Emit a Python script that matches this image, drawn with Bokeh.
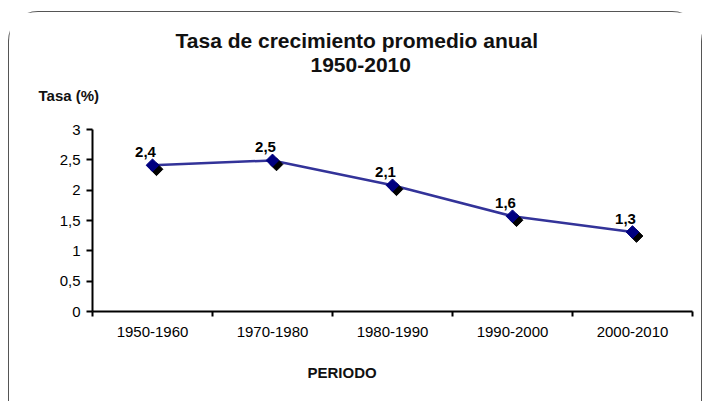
import math
from bokeh.plotting import figure
from bokeh.models import Range1d, FixedTicker, Title, ColumnDataSource
from bokeh.core.properties import value
from bokeh.embed import file_html
from bokeh.resources import INLINE

# ---- data ----
periods = ["1950-1960", "1970-1980", "1980-1990", "1990-2000", "2000-2010"]
rates = [2.41, 2.49, 2.08, 1.57, 1.31]
y_ticks = [0, 0.5, 1, 1.5, 2, 2.5, 3]
title_line1 = "Tasa de crecimiento promedio anual"
title_line2 = "1950-2010"
y_title = "Tasa (%)"
x_title = "PERIODO"

FONT = "Liberation Sans"
W, H = 694, 390
ML, MR, MT, MB = 83, 11, 117, 90
FW, FH = W - ML - MR, H - MT - MB

xs = [i + 0.5 for i in range(len(periods))]
labels = [f"{v:.1f}".replace(".", ",") for v in rates]
src = ColumnDataSource(dict(x=xs, y=rates, lab=labels))

p = figure(width=W, height=H, x_range=Range1d(0, len(periods)), y_range=Range1d(0, 3),
           output_backend="svg", toolbar_location=None,
           min_border_left=ML, min_border_right=MR, min_border_top=MT, min_border_bottom=MB)
p.styles = {"margin-left": "8px", "margin-top": "11px",
            "border-top": "1px solid #555555", "border-left": "1px solid #555555",
            "border-right": "1px solid #555555",
            "border-top-left-radius": "30px", "border-top-right-radius": "30px"}
p.title.visible = False
p.background_fill_color = "white"
p.border_fill_color = "white"
p.outline_line_color = None
p.xgrid.visible = False
p.ygrid.visible = False

# shadow ranges (offset by a few screen pixels)
sdx = 4 * len(periods) / FW
sdy = 4 * 3 / FH
p.extra_x_ranges = {"sx": Range1d(-sdx, len(periods) - sdx)}
p.extra_y_ranges = {"sy": Range1d(sdy, 3 + sdy)}

# axes
xa = p.xaxis[0]
xa.ticker = FixedTicker(ticks=xs, minor_ticks=list(range(len(periods) + 1)))
xa.major_label_overrides = {x: lab for x, lab in zip(xs, periods)}
xa.major_tick_line_color = None
xa.major_tick_out = 5
xa.minor_tick_in = 0
xa.minor_tick_out = 5
xa.minor_tick_line_width = 2
xa.minor_tick_line_color = "black"
xa.axis_line_width = 2
xa.axis_line_color = "black"
xa.major_label_standoff = 10
xa.major_label_text_font = FONT
xa.major_label_text_font_size = "15px"
xa.major_label_text_color = "black"

ya = p.yaxis[0]
ya.ticker = FixedTicker(ticks=y_ticks, minor_ticks=[])
ya.major_label_overrides = {t: (f"{t:g}".replace(".", ",")) for t in y_ticks}
ya.major_tick_in = 0
ya.major_tick_out = 6
ya.major_tick_line_width = 2
ya.major_tick_line_color = "black"
ya.axis_line_width = 2
ya.axis_line_color = "black"
ya.major_label_standoff = 6
ya.major_label_text_font = FONT
ya.major_label_text_font_size = "15px"
ya.major_label_text_color = "black"

# series
p.line("x", "y", source=src, line_color="#333399", line_width=2.5)
p.scatter("x", "y", source=src, marker="square", size=9, angle=math.pi / 4,
          fill_color="black", line_color="black",
          x_range_name="sx", y_range_name="sy")
p.scatter("x", "y", source=src, marker="square", size=9, angle=math.pi / 4,
          fill_color="#000080", line_color="#000080")
p.text("x", "y", text="lab", source=src, text_font=value(FONT), text_font_style="bold",
       text_font_size="15px", text_align="center", text_baseline="alphabetic",
       x_offset=-7, y_offset=-13, text_color="black")

# titles (stacked outward from the frame in the order added)
def ttl(text, size, offset, standoff):
    return Title(text=text, text_font=FONT, text_font_style="bold", text_font_size=size,
                 align="left", offset=offset, standoff=standoff, text_color="#111111")

p.add_layout(ttl(" ", "1px", 0, 13), "above")          # spacer above the frame
p.add_layout(ttl(y_title, "15px", -54, 19), "above")
p.add_layout(ttl(title_line2, "21px", 218, 7), "above")
p.add_layout(ttl(title_line1, "21px", 83, 1), "above")
p.add_layout(ttl(x_title, "15px", 215, 44), "below")

open("out.html", "w").write(file_html(p, INLINE))
